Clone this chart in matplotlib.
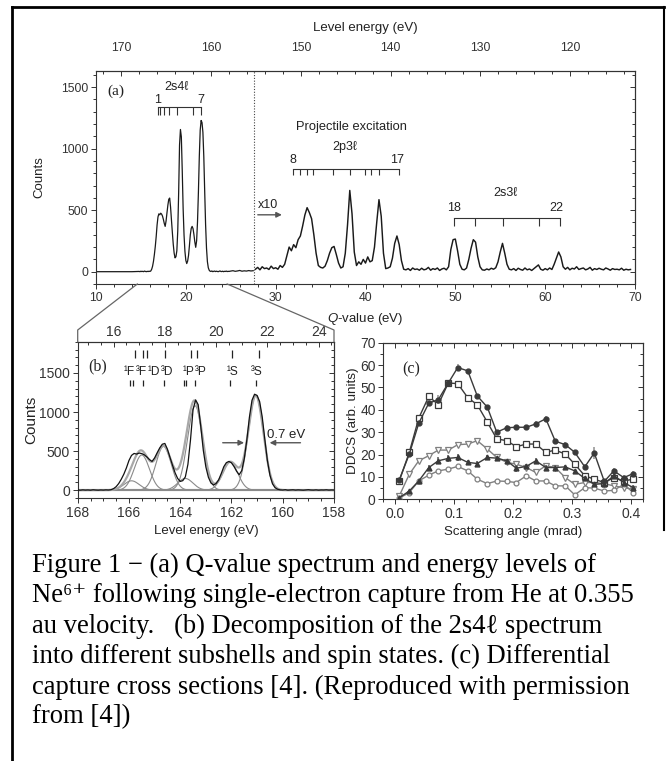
import numpy as np
import matplotlib
matplotlib.use('Agg')
import matplotlib.pyplot as plt
from matplotlib.lines import Line2D
from matplotlib.ticker import MultipleLocator, FixedLocator, FormatStrFormatter

plt.rcParams['font.family'] = ['Liberation Sans', 'DejaVu Sans']
plt.rcParams['mathtext.fontset'] = 'custom'
plt.rcParams['mathtext.it'] = 'Liberation Sans:italic'
plt.rcParams['mathtext.rm'] = 'Liberation Sans'
plt.rcParams['font.size'] = 9
plt.rcParams['axes.linewidth'] = 0.8
plt.rcParams['axes.edgecolor'] = '#333333'
plt.rcParams['text.color'] = '#222222'
plt.rcParams['axes.labelcolor'] = '#222222'
plt.rcParams['xtick.color'] = '#333333'
plt.rcParams['ytick.color'] = '#333333'

# ---- (b) 2s4l spectrum, level energy 168 -> 158 eV in 0.1 eV channels
e_fine = np.round(np.linspace(168.0, 158.0, 101), 1)
counts_fine = [2, 0, 4, 1, 3, 0, 5, 2, 0, 3, 1, 4, 2,
               6, 20, 45, 85, 140, 205, 285, 380, 445, 470,
               462, 475, 468, 452, 425, 392, 368, 412, 478, 540,
               588, 598, 525, 420, 318, 222, 150, 112, 122, 170,
               330, 640, 1030, 1155, 1095, 822, 512, 298, 165, 92,
               66, 86, 132, 212, 300, 352, 368, 350, 302, 242,
               198, 250, 405, 645, 935, 1150, 1228, 1212, 1132, 935,
               652, 382, 192, 82, 32, 12,
               4, 2, 6, 0, 3, 5, 1, 4, 2, 0, 3, 6, 2, 1, 4, 0, 3, 2, 5, 1, 3, 2]

# fitted components of (b): centre (eV), height, FWHM (eV)
fit_states = ['1F', '3F', '3D', '1P', '3P', '1S', '3S']
fit_centre = [165.9, 165.5, 164.65, 163.8, 163.42, 162.05, 161.05]
fit_height = [120, 450, 560, 150, 1080, 360, 1210]
fit_fwhm = [0.7, 0.7, 0.7, 0.7, 0.7, 0.7, 0.7]

state_labels = ['\u00b9F', '\u00b3F', '\u00b9D', '\u00b3D', '\u00b9P', '\u00b3P', '\u00b9S', '\u00b3S']
state_label_e = [165.98, 165.5, 165.03, 164.52, 163.66, 163.19, 161.98, 161.0]
exp_marks_e = [165.76, 165.46, 165.3, 164.59, 163.59, 163.35, 161.98, 160.94]
theo_marks_e = [165.95, 165.85, 165.46, 164.65, 163.86, 163.76, 163.44, 162.05, 161.03]

# ---- (a) Q-value spectrum
q_pre = [10.0, 14.0]
counts_pre = [0, 0]
q_post = [25.0, 25.25, 25.5, 25.75, 26.0, 26.25, 26.5, 26.75, 27.0, 27.25, 27.5]
counts_post = [5, 8, 3, 6, 10, 4, 7, 5, 9, 6, 8]
q_x10_start = 27.75
counts_x10 = [20, 35, 15, 40, 25, 30, 18, 45, 25, 32, 20, 50, 35, 60,
              130, 200, 170, 220, 195, 260, 290, 370, 460, 520, 480, 430, 300, 150, 50,
              35, 30, 45, 90, 150, 195, 205, 140, 70, 30,
              40, 150, 380, 660, 470, 160, 50,
              80, 60, 100, 70, 120, 80, 90,
              200, 400, 585, 450, 150, 25, 30, 40,
              110, 230, 290, 220, 90, 20,
              15, 25, 10, 30, 18, 22, 12, 28, 15, 20, 35, 12, 25, 18, 30, 10, 22, 28, 15,
              40, 180, 260, 265, 170, 60, 20, 15, 30, 100, 190, 260, 240, 120, 40, 15,
              12, 22, 15, 28, 20, 32,
              80, 160, 230, 150, 60, 20,
              15, 25, 10, 28, 18, 12, 30, 15, 22, 10, 25,
              40, 55, 20,
              12, 25, 15, 30, 18,
              60, 110, 160, 120, 40,
              20, 35, 15, 28, 22, 40, 18, 25, 30, 15, 22, 35, 12, 25, 18, 28, 20, 15,
              30, 22, 12, 25, 18, 20, 15, 28, 12, 20, 15, 18]

levels_2s4 = [16.86, 17.13, 17.57, 18.13, 18.98, 20.76, 21.68]
levels_2p3 = [31.9, 32.72, 33.46, 34.13, 36.43, 38.29, 39.96, 40.59, 41.55, 43.74]
levels_2s3 = [49.87, 52.2, 55.36, 59.26, 61.67]

# ---- (c) DDCS vs scattering angle
angle = [0.007, 0.024, 0.04, 0.057, 0.073, 0.09, 0.106, 0.123, 0.139, 0.156, 0.172, 0.189,
         0.205, 0.222, 0.238, 0.255, 0.271, 0.288, 0.304, 0.321, 0.337, 0.354, 0.37, 0.387, 0.403]
ddcs_1 = [8.7, 20.2, 34, 43, 44.5, 52, 58.9, 57.4, 46.2, 41.2, 30, 32, 32.2, 32.2, 33.7, 36,
          26, 24.4, 21, 14.5, 20.7, 8, 12.7, 9.7, 11.5]
err_1 = [0.6, 0.8, 1.0, 1.2, 2.0, 1.0, 1.5, 1.0, 1.0, 1.0, 1.0, 1.2, 1.2, 1.2, 1.2, 1.2,
         1.0, 1.0, 1.0, 1.5, 2.5, 1.0, 1.5, 1.2, 1.0]
ddcs_2 = [8.2, 21, 36.3, 46, 42.3, 52, 51.7, 45.4, 42.3, 34.5, 27, 26.2, 23.5, 24.7, 24.7, 21,
          22, 20.2, 15.7, 10.5, 9, 7.5, 9.7, 8.2, 9]
ddcs_3 = [1.5, 11.2, 17.2, 19.5, 22, 22, 24.4, 24.7, 26.2, 22.5, 18.7, 16.5, 15.7, 14.2, 12, 15,
          14.2, 9.7, 6.7, 7.5, 7.5, 7, 6, 5.2, 4.5]
ddcs_4 = [0.7, 3.7, 8.2, 14.2, 17.2, 18.3, 18.7, 16.5, 16, 18.7, 18.4, 17.2, 13.9, 14.7, 17.2,
          14.2, 14.2, 14.5, 12.7, 9.3, 6.7, 7, 10.5, 7.5, 5.2]
err_4 = [0.5, 0.6, 0.8, 1.0, 1.5, 1.5, 1.5, 1.0, 1.0, 1.2, 1.0, 1.0, 1.5, 1.0, 1.2, 1.0,
         1.0, 1.0, 1.0, 1.0, 1.0, 1.0, 1.5, 1.0, 1.0]
ddcs_5 = [0.5, 3, 8.2, 10.8, 12.7, 13.5, 14.7, 12.7, 9, 7, 8.2, 8, 7.5, 10.5, 8.2, 8.2,
          6, 6, 2, 5.2, 5, 3.7, 4, 6.7, 3]

caption = ['Figure 1 \u2212 (a) Q-value spectrum and energy levels of',
           'Ne\u2076\u207a following single-electron capture from He at 0.355',
           'au velocity.   (b) Decomposition of the 2s4\u2113 spectrum',
           'into different subshells and spin states. (c) Differential',
           'capture cross sections [4]. (Reproduced with permission',
           'from [4])']

E_OFF_A = 182.8   # level energy = offset - Q, panel (a)
E_OFF_B = 182.6   # panel (b)

W, H = 667, 761
fig = plt.figure(figsize=(W / 100, H / 100), dpi=100)


def box(x0, y0, x1, y1):
    return [x0 / W, 1 - y1 / H, (x1 - x0) / W, (y1 - y0) / H]


def fig_line(xs, ys, **kw):
    fig.add_artist(Line2D([x / W for x in xs], [1 - y / H for y in ys],
                          transform=fig.transFigure, **kw))


def base_ticks(ax, size):
    ax.tick_params(which='both', direction='out', top=False, right=False, width=0.7,
                   labelsize=size, pad=2)
    ax.tick_params(which='major', length=3.5)
    ax.tick_params(which='minor', length=2)


def inner_axis(ax, side, major, minor, size=9, labels=False, functions=None, pad=2):
    if side in ('top', 'bottom'):
        sec = ax.secondary_xaxis(side, functions=functions) if functions else ax.secondary_xaxis(side)
        axis = sec.xaxis
    else:
        sec = ax.secondary_yaxis(side)
        axis = sec.yaxis
    axis.set_major_locator(FixedLocator(major) if isinstance(major, list) else MultipleLocator(major))
    axis.set_minor_locator(MultipleLocator(minor))
    sec.tick_params(which='both', direction='in', width=0.7, labelsize=size, pad=pad)
    sec.tick_params(which='major', length=3.5)
    sec.tick_params(which='minor', length=2)
    if not labels:
        sec.tick_params(which='both', labeltop=False, labelright=False)
    return sec


def bracket(ax, xs, y, tick):
    ax.plot([min(xs), max(xs)], [y, y], color='#333', lw=0.8)
    ax.vlines(xs, y - tick, y, color='#333', lw=0.8)


# ================= (a)
ax_a = fig.add_axes(box(96, 71, 635, 284))
base_ticks(ax_a, 8.8)
q_left = np.concatenate([q_pre, E_OFF_A - e_fine, q_post])
c_left = np.concatenate([counts_pre, counts_fine, counts_post])
ax_a.plot(q_left, c_left, color='#1a1a1a', lw=0.9)
q_x10 = q_x10_start + 0.25 * np.arange(len(counts_x10))
ax_a.plot(q_x10, counts_x10, color='#1a1a1a', lw=1.05)
ax_a.axvline(27.6, color='#444', ls=(0, (1, 1.5)), lw=0.8)
ax_a.set_xlim(10, 70)
ax_a.set_ylim(-100, 1630)
ax_a.xaxis.set_major_locator(MultipleLocator(10))
ax_a.xaxis.set_minor_locator(MultipleLocator(2))
ax_a.yaxis.set_major_locator(MultipleLocator(500))
ax_a.yaxis.set_minor_locator(MultipleLocator(100))
ax_a.set_ylabel('Counts', labelpad=11, fontsize=9.5)
ax_a.set_xlabel(r'$\mathit{Q}$-value (eV)', labelpad=5, fontsize=9.5)
top_a = inner_axis(ax_a, 'top', [120, 130, 140, 150, 160, 170], 2, size=8.8, labels=True,
                   functions=(lambda q: E_OFF_A - q, lambda e: E_OFF_A - e), pad=12)
top_a.set_xlabel('Level energy (eV)', labelpad=8, fontsize=9.5)
inner_axis(ax_a, 'right', 500, 100)

ax_a.text(11.3, 1462, '(a)', family=['Liberation Serif'], fontsize=11, va='center')
bracket(ax_a, levels_2s4, 1335, 62)
ax_a.text(levels_2s4[0], 1395, '1', ha='center', va='center', fontsize=9)
ax_a.text(levels_2s4[-1], 1395, '7', ha='center', va='center', fontsize=9)
ax_a.text(19.0, 1503, '2s4\u2113', ha='center', va='center', fontsize=9)
bracket(ax_a, levels_2p3, 833, 50)
ax_a.text(levels_2p3[0], 908, '8', ha='center', va='center', fontsize=9)
ax_a.text(levels_2p3[-1] - 0.2, 908, '17', ha='center', va='center', fontsize=9)
ax_a.text(37.7, 1016, '2p3\u2113', ha='center', va='center', fontsize=9)
ax_a.text(38.4, 1178, 'Projectile excitation', ha='center', va='center', fontsize=9.3)
bracket(ax_a, levels_2s3, 435, 62)
ax_a.text(levels_2s3[0], 516, '18', ha='center', va='center', fontsize=9)
ax_a.text(levels_2s3[-1] - 0.4, 516, '22', ha='center', va='center', fontsize=9)
ax_a.text(55.6, 638, '2s3\u2113', ha='center', va='center', fontsize=9)
ax_a.text(29.2, 540, 'x10', ha='center', va='center', fontsize=9)
ax_a.annotate('', xy=(31.0, 462), xytext=(27.7, 462),
              arrowprops=dict(arrowstyle='-|>', color='#555', lw=1.0, mutation_scale=8))

# ================= (b)
ax_b = fig.add_axes(box(77.7, 341.7, 334, 498))
base_ticks(ax_b, 10)
e_fit = np.linspace(168, 158, 401)
comps = [h * np.exp(-4 * np.log(2) * (e_fit - c) ** 2 / w ** 2)
         for c, h, w in zip(fit_centre, fit_height, fit_fwhm)]
ax_b.axhline(0, color='#b5b5b5', lw=1.6, zorder=1)
for comp in comps:
    ax_b.plot(e_fit, comp, color='#8a8a8a', lw=0.8, zorder=2)
ax_b.plot(e_fit, np.sum(comps, axis=0), color='#a8a8a8', lw=1.6, zorder=2)
ax_b.plot(e_fine, counts_fine, color='#111', lw=0.9, zorder=3)
ax_b.set_xlim(168, 158)
ax_b.set_ylim(-100, 1900)
ax_b.xaxis.set_major_locator(MultipleLocator(2))
ax_b.xaxis.set_minor_locator(MultipleLocator(0.5))
ax_b.yaxis.set_major_locator(MultipleLocator(500))
ax_b.yaxis.set_minor_locator(MultipleLocator(100))
ax_b.set_ylabel('Counts', labelpad=1, fontsize=11)
ax_b.set_xlabel('Level energy (eV)', labelpad=4, fontsize=9.5)
inner_axis(ax_b, 'top', [16, 18, 20, 22, 24], 0.5, size=10, labels=True,
           functions=(lambda e: E_OFF_B - e, lambda q: E_OFF_B - q))
inner_axis(ax_b, 'right', 500, 100)
ax_b.text(167.6, 1580, '(b)', family=['Liberation Serif'], fontsize=11.5, va='center')
ax_b.vlines(exp_marks_e, 1690, 1800, color='#222', lw=0.9)
for lab, e in zip(state_labels, state_label_e):
    ax_b.text(e, 1517, lab, ha='center', va='center', fontsize=8.6)
ax_b.vlines(theo_marks_e, 1330, 1410, color='#222', lw=0.9)
ax_b.annotate('', xy=(161.4, 607), xytext=(162.45, 607),
              arrowprops=dict(arrowstyle='-|>', color='#555', lw=1.0, mutation_scale=8))
ax_b.annotate('', xy=(160.62, 607), xytext=(159.2, 607),
              arrowprops=dict(arrowstyle='-|>', color='#555', lw=1.0, mutation_scale=8))
ax_b.text(159.85, 705, '0.7 eV', ha='center', va='center', fontsize=9.5)

# ================= (c)
ax_c = fig.add_axes(box(383.3, 342.7, 643.3, 499.3))
base_ticks(ax_c, 10)
ax_c.errorbar(angle, ddcs_1, yerr=err_1, color='#3a3a3a', marker='o', ms=3.5, lw=1.0,
              ecolor='#999', elinewidth=1.2, capsize=0, zorder=5)
ax_c.plot(angle, ddcs_2, color='#3a3a3a', marker='s', ms=4, mfc='white', mew=0.9, lw=1.0, zorder=4)
ax_c.plot(angle, ddcs_3, color='#808080', marker='v', ms=4, mfc='white', mew=0.9, lw=1.0, zorder=3)
ax_c.errorbar(angle, ddcs_4, yerr=err_4, color='#3a3a3a', marker='^', ms=3.5, lw=1.0,
              ecolor='#666', elinewidth=1.2, capsize=0, zorder=4)
ax_c.plot(angle, ddcs_5, color='#808080', marker='o', ms=3.5, mfc='white', mew=0.9, lw=1.0, zorder=3)
ax_c.set_xlim(-0.02, 0.42)
ax_c.set_ylim(0, 70)
ax_c.xaxis.set_major_locator(MultipleLocator(0.1))
ax_c.xaxis.set_minor_locator(MultipleLocator(0.02))
ax_c.yaxis.set_major_locator(MultipleLocator(10))
ax_c.yaxis.set_minor_locator(MultipleLocator(5))
ax_c.xaxis.set_major_formatter(FormatStrFormatter('%.1f'))
ax_c.set_ylabel('DDCS (arb. units)', labelpad=1, fontsize=9.7)
ax_c.set_xlabel('Scattering angle (mrad)', labelpad=4, fontsize=9.5)
inner_axis(ax_c, 'top', 0.1, 0.02)
inner_axis(ax_c, 'right', 10, 5)
ax_c.text(0.012, 58, '(c)', family=['Liberation Serif'], fontsize=11.5, va='center')

# ================= zoom connectors from (a) to (b)
fig.canvas.draw()
inv = fig.transFigure.inverted()
for e_edge in (168, 158):
    pa = inv.transform(ax_a.transData.transform((E_OFF_B - e_edge, -100)))
    pb = inv.transform(ax_b.transData.transform((e_edge, 1900)))
    mid_y = pb[1] + 11.7 / H
    fig.add_artist(Line2D([pa[0], pb[0], pb[0]], [pa[1], mid_y, pb[1]],
                          transform=fig.transFigure, color='#666', lw=0.9))

# ================= outer frame and caption
fig_line([12, 12], [7, 761], color='black', lw=2)
fig_line([12, 664], [7, 7], color='black', lw=2)
fig_line([664, 664], [7, 530], color='black', lw=1.5)

cap_y = [565, 595.5, 626, 656.5, 687, 717]
for txt, y in zip(caption, cap_y):
    fig.text(32 / W, 1 - y / H, txt, family=['Liberation Serif', 'DejaVu Serif'],
             fontsize=19.2, color='black', va='center', ha='left')

fig.savefig('out.png', dpi=100)
